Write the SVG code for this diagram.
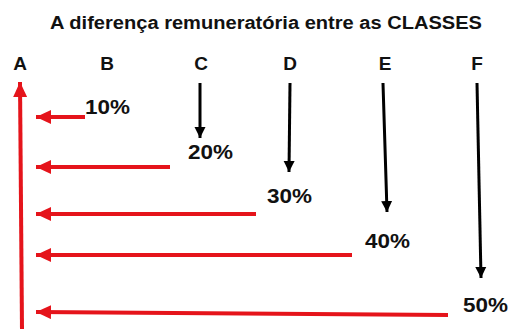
<svg xmlns="http://www.w3.org/2000/svg" width="508" height="329" viewBox="0 0 508 329">
<style>
  text { font-family: "Liberation Sans", Arial, sans-serif; font-weight: bold; fill: #111; }
  .title { font-size: 17.5px; }
  .cls { font-size: 19px; text-anchor: middle; }
  .pct { font-size: 20px; }
  .red { stroke: #e5141b; stroke-width: 4; fill: none; marker-end: url(#redhead); }
  .blk { stroke: #000; stroke-width: 3; fill: none; marker-end: url(#blkhead); }
</style>
<defs>
  <marker id="redhead" markerUnits="userSpaceOnUse" markerWidth="16" markerHeight="14" refX="15" refY="7" orient="auto">
    <path d="M0,0 L15,7 L0,14 Z" fill="#e5141b"/>
  </marker>
  <marker id="blkhead" markerUnits="userSpaceOnUse" markerWidth="12" markerHeight="12" refX="11" refY="6" orient="auto">
    <path d="M0,0.5 L11,6 L0,11.5 Z" fill="#000"/>
  </marker>
</defs>
<rect width="508" height="329" fill="#fff"/>
<text class="title" x="50" y="29" textLength="432" lengthAdjust="spacingAndGlyphs">A diferença remuneratória entre as CLASSES</text>
<g id="classA"><text class="cls" x="20" y="70">A</text></g>
<g id="classB"><text class="cls" x="107" y="70">B</text></g>
<g id="classC"><text class="cls" x="201" y="70">C</text></g>
<g id="classD"><text class="cls" x="290" y="70">D</text></g>
<g id="classE"><text class="cls" x="385" y="70">E</text></g>
<g id="classF"><text class="cls" x="477" y="70">F</text></g>
<g id="p10"><text class="pct" x="85" y="114" textLength="45" lengthAdjust="spacingAndGlyphs">10%</text></g>
<g id="p20"><text class="pct" x="188" y="159" textLength="45" lengthAdjust="spacingAndGlyphs">20%</text></g>
<g id="p30"><text class="pct" x="267" y="203" textLength="45" lengthAdjust="spacingAndGlyphs">30%</text></g>
<g id="p40"><text class="pct" x="365" y="248" textLength="45" lengthAdjust="spacingAndGlyphs">40%</text></g>
<g id="p50"><text class="pct" x="463" y="312" textLength="45" lengthAdjust="spacingAndGlyphs">50%</text></g>
<g id="connectors">
  <line class="red" x1="22" y1="329" x2="20" y2="82"/>
  <line class="red" x1="85" y1="117" x2="36" y2="117"/>
  <line class="red" x1="170" y1="167" x2="36" y2="167"/>
  <line class="red" x1="256" y1="214" x2="36" y2="214"/>
  <line class="red" x1="352" y1="255" x2="36" y2="255"/>
  <line class="red" x1="448" y1="315" x2="36" y2="312"/>
  <line class="blk" x1="200" y1="83" x2="200" y2="138"/>
  <line class="blk" x1="290" y1="83" x2="289" y2="172"/>
  <line class="blk" x1="383" y1="83" x2="387" y2="212"/>
  <line class="blk" x1="477" y1="83" x2="481" y2="278"/>
</g>
</svg>
